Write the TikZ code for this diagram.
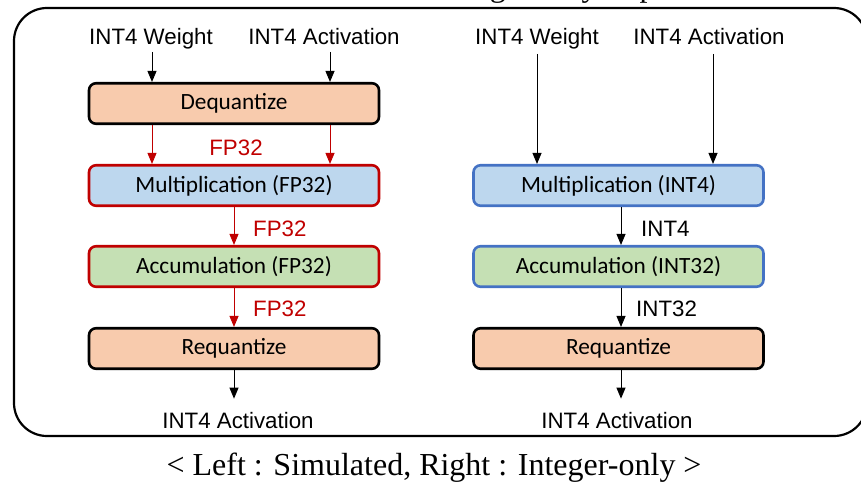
\documentclass[tikz,border=0pt]{standalone}
\usepackage{fontspec}
\setmainfont{Liberation Sans}
\newfontfamily\calfont{Carlito}
\newfontfamily\serfont{Liberation Serif}
\usetikzlibrary{arrows.meta}
\definecolor{peach}{HTML}{F8CBAD}
\definecolor{paleblue}{HTML}{BDD7EE}
\definecolor{palegreen}{HTML}{C5E0B4}
\definecolor{fpred}{HTML}{C00000}
\definecolor{intblue}{HTML}{4472C4}
\begin{document}
\begin{tikzpicture}[x=1pt,y=-1pt,
  stage/.style={draw, rounded corners=7pt, line width=2.6pt,
    minimum width=290pt, minimum height=40.5pt, inner sep=0pt,
    font=\calfont\fontsize{23.3}{27}\selectfont},
  quant/.style={stage, fill=peach, draw=black},
  fpmul/.style={stage, fill=paleblue, draw=fpred},
  fpacc/.style={stage, fill=palegreen, draw=fpred},
  intmul/.style={stage, fill=paleblue, draw=intblue},
  intacc/.style={stage, fill=palegreen, draw=intblue},
  lbl/.style={inner sep=0pt, font=\fontsize{22.3}{26}\selectfont},
  redlbl/.style={lbl, text=fpred},
  flow/.style={-{Triangle[length=11pt,width=9pt]}, line width=0.9pt},
  redflow/.style={flow, draw=fpred, fill=fpred},
]
\useasboundingbox (0,0) rectangle (861,484);

% caption line above the frame, mostly cut off
\node[anchor=base west, inner sep=0pt, font=\serfont\fontsize{32}{36}\selectfont]
  (capt) at (440,-3) {Integer-only implementation};

% outer frame
\draw[line width=2.2pt, rounded corners=33pt] (14,8) rectangle (867,436);

% ---- left: simulated quantization ----
\node[lbl, anchor=base] (lw) at (151,45) {INT4 Weight};
\node[lbl, anchor=base] (la) at (324,45) {INT4 Activation};
\node[quant] (ldeq) at (234,103.5) {Dequantize};
\node[fpmul] (lmul) at (234,185.5) {Multiplication (FP32)};
\node[fpacc] (lacc) at (234,266.5) {Accumulation (FP32)};
\node[quant] (lreq) at (234,348.5) {Requantize};
\node[lbl, anchor=base] (lout) at (238,428) {INT4 Activation};

\coordinate (lwx) at ([xshift=1pt,yshift=-7pt]lw.base);
\coordinate (lax) at ([xshift=6pt,yshift=-7pt]la.base);
\draw[flow] (lwx) -- (lwx |- ldeq.north);
\draw[flow] (lax) -- (lax |- ldeq.north);
\draw[redflow] (lwx |- ldeq.south) -- (lwx |- lmul.north);
\draw[redflow] (lax |- ldeq.south) -- (lax |- lmul.north);
\draw[redflow] (ldeq.south |- lmul.south) -- (ldeq.south |- lacc.north);
\draw[redflow] (ldeq.south |- lacc.south) -- (ldeq.south |- lreq.north);
\draw[flow] (lreq.south) -- ([yshift=13pt]lreq.south |- lout.north);

\node[redlbl, anchor=base] (lf1) at (236,155) {FP32};
\node[redlbl, anchor=base west] (lf2) at (253,236) {FP32};
\node[redlbl, anchor=base west] (lf3) at (253,316) {FP32};

% ---- right: integer-only ----
\node[lbl, anchor=base] (rw) at (537,45) {INT4 Weight};
\node[lbl, anchor=base] (ra) at (709,45) {INT4 Activation};
\node[intmul] (rmul) at (618.5,185.5) {Multiplication (INT4)};
\node[intacc] (racc) at (618.5,266.5) {Accumulation (INT32)};
\node[quant] (rreq) at (618.5,348.5) {Requantize};
\node[lbl, anchor=base] (rout) at (617,428) {INT4 Activation};

\coordinate (rwx) at ([yshift=-9pt]rw.base);
\coordinate (rax) at ([xshift=4pt,yshift=-9pt]ra.base);
\draw[flow] (rwx) -- (rwx |- rmul.north);
\draw[flow] (rax) -- (rax |- rmul.north);
\coordinate (rc) at ([xshift=2.5pt]rmul.south);
\draw[flow] (rc) -- (rc |- racc.north);
\draw[flow] (rc |- racc.south) -- (rc |- rreq.north);
\draw[flow] (rc |- rreq.south) -- ([yshift=13pt]rc |- rout.north);

\node[lbl, anchor=base west] (ri1) at (641,236) {INT4};
\node[lbl, anchor=base west] (ri2) at (636,316) {INT32};

% caption below the frame
\node[anchor=base, inner sep=0pt, font=\serfont\fontsize{32}{36}\selectfont]
  (legend) at (434,475) {< Left : Simulated, Right : Integer-only >};
\end{tikzpicture}
\end{document}
